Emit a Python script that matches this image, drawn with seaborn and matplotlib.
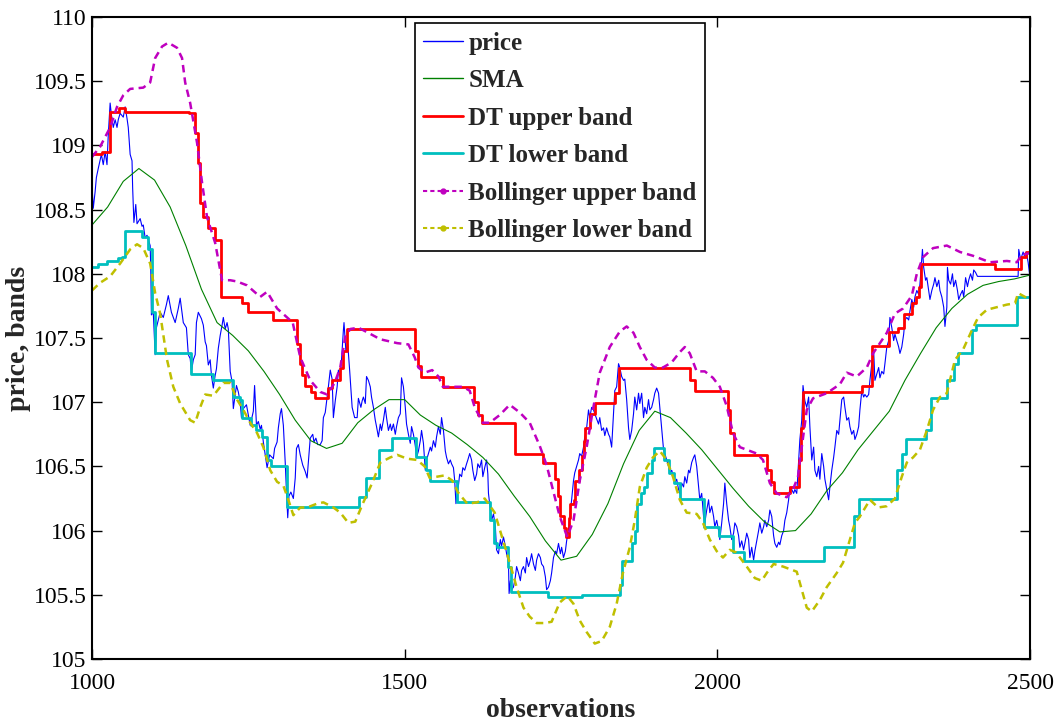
import matplotlib
matplotlib.use("Agg")
import matplotlib.pyplot as plt
from matplotlib.lines import Line2D
import seaborn as sns

# ---- data ----
price_obs = [1000, 1002, 1005, 1007, 1010, 1015, 1018, 1021, 1024, 1026, 1029, 1031, 1034, 1037, 1040, 1042, 1045, 1050,
             1053, 1056, 1058, 1061, 1064, 1065, 1067, 1070, 1072, 1077, 1080, 1082, 1085, 1088, 1093, 1094, 1095, 1098,
             1101, 1103, 1109, 1114, 1119, 1122, 1127, 1133, 1138, 1141, 1146, 1151, 1154, 1157, 1159, 1162, 1165, 1167,
             1170, 1175, 1178, 1181, 1183, 1186, 1189, 1191, 1194, 1197, 1199, 1202, 1205, 1208, 1210, 1213, 1216, 1218,
             1221, 1224, 1226, 1229, 1231, 1234, 1237, 1239, 1242, 1247, 1250, 1253, 1258, 1260, 1263, 1266, 1269, 1271,
             1274, 1277, 1280, 1284, 1290, 1292, 1296, 1298, 1301, 1303, 1306, 1309, 1311, 1313, 1315, 1318, 1322, 1325,
             1327, 1330, 1333, 1337, 1341, 1344, 1347, 1349, 1353, 1355, 1358, 1361, 1365, 1368, 1370, 1373, 1378, 1381,
             1384, 1386, 1389, 1392, 1394, 1397, 1399, 1402, 1403, 1406, 1409, 1412, 1414, 1416, 1420, 1424, 1426, 1430,
             1432, 1434, 1437, 1439, 1442, 1445, 1447, 1450, 1453, 1455, 1458, 1461, 1463, 1466, 1469, 1471, 1474, 1477,
             1479, 1482, 1485, 1487, 1490, 1493, 1495, 1498, 1501, 1503, 1506, 1509, 1511, 1514, 1517, 1519, 1522, 1525,
             1527, 1530, 1533, 1535, 1538, 1541, 1543, 1546, 1549, 1551, 1554, 1557, 1559, 1562, 1565, 1567, 1570, 1573,
             1575, 1578, 1580, 1582, 1585, 1588, 1591, 1593, 1596, 1599, 1601, 1604, 1607, 1609, 1612, 1615, 1617, 1620,
             1623, 1625, 1628, 1631, 1633, 1634, 1637, 1639, 1642, 1645, 1647, 1650, 1653, 1655, 1658, 1661, 1663, 1666,
             1667, 1669, 1671, 1674, 1677, 1679, 1682, 1685, 1687, 1690, 1693, 1695, 1698, 1701, 1703, 1706, 1709, 1711,
             1714, 1717, 1719, 1722, 1725, 1727, 1730, 1733, 1735, 1738, 1741, 1743, 1746, 1749, 1751, 1754, 1757, 1759,
             1762, 1764, 1767, 1770, 1772, 1775, 1778, 1780, 1783, 1786, 1788, 1791, 1794, 1796, 1799, 1802, 1804, 1807,
             1810, 1812, 1815, 1818, 1820, 1823, 1826, 1828, 1831, 1834, 1836, 1839, 1842, 1844, 1847, 1850, 1852, 1855,
             1858, 1860, 1863, 1866, 1868, 1871, 1874, 1876, 1879, 1882, 1884, 1887, 1890, 1892, 1895, 1898, 1900, 1903,
             1906, 1908, 1911, 1914, 1916, 1919, 1922, 1924, 1927, 1930, 1932, 1935, 1938, 1940, 1943, 1946, 1948, 1951,
             1954, 1956, 1959, 1962, 1964, 1967, 1970, 1972, 1975, 1978, 1980, 1983, 1986, 1988, 1991, 1994, 1996, 1999,
             2002, 2004, 2007, 2010, 2012, 2015, 2018, 2020, 2023, 2026, 2028, 2031, 2034, 2036, 2039, 2042, 2044, 2047,
             2050, 2052, 2055, 2058, 2060, 2063, 2066, 2068, 2071, 2074, 2076, 2079, 2082, 2084, 2087, 2090, 2092, 2095,
             2098, 2100, 2103, 2106, 2108, 2111, 2114, 2116, 2119, 2122, 2124, 2127, 2130, 2132, 2135, 2137, 2140, 2143,
             2146, 2148, 2151, 2154, 2156, 2159, 2162, 2164, 2167, 2170, 2172, 2175, 2178, 2180, 2183, 2186, 2188, 2191,
             2194, 2196, 2199, 2202, 2204, 2207, 2210, 2212, 2215, 2218, 2220, 2223, 2226, 2228, 2231, 2234, 2236, 2239,
             2242, 2244, 2247, 2250, 2252, 2255, 2258, 2260, 2263, 2266, 2268, 2271, 2274, 2276, 2279, 2282, 2284, 2287,
             2290, 2292, 2295, 2298, 2300, 2303, 2306, 2308, 2311, 2314, 2316, 2319, 2322, 2324, 2327, 2328, 2330, 2333,
             2335, 2338, 2340, 2343, 2346, 2348, 2351, 2354, 2356, 2359, 2362, 2364, 2367, 2368, 2370, 2373, 2376, 2378,
             2381, 2384, 2386, 2389, 2392, 2394, 2397, 2400, 2402, 2405, 2408, 2410, 2413, 2416, 2481, 2482, 2485, 2489,
             2491, 2494, 2497, 2500]
price_val = [108.69, 108.51, 108.64, 108.75, 108.82, 108.93, 108.85, 108.95, 108.85, 109.08, 109.33, 109.24, 109.14,
             109.20, 109.14, 109.20, 109.25, 109.22, 109.30, 109.21, 109.14, 108.93, 108.88, 108.67, 108.40, 108.54,
             108.39, 108.43, 108.37, 108.38, 108.28, 108.30, 108.22, 108.04, 107.68, 107.70, 107.37, 107.58, 107.70,
             107.66, 107.76, 107.83, 107.70, 107.62, 107.73, 107.81, 107.62, 107.58, 107.37, 107.34, 107.24, 107.33,
             107.37, 107.62, 107.70, 107.65, 107.60, 107.47, 107.44, 107.29, 107.33, 107.21, 107.11, 107.21, 107.26,
             107.42, 107.52, 107.60, 107.66, 107.57, 107.62, 107.57, 107.24, 107.16, 106.95, 107.06, 107.13, 107.08,
             107.00, 106.88, 106.95, 106.98, 106.90, 106.82, 106.93, 107.13, 106.82, 106.85, 106.79, 106.82, 106.69,
             106.59, 106.49, 106.59, 106.56, 106.64, 106.69, 106.80, 106.91, 106.95, 106.82, 106.53, 106.30, 106.10,
             106.27, 106.30, 106.25, 106.41, 106.64, 106.67, 106.59, 106.51, 106.46, 106.41, 106.59, 106.72, 106.75,
             106.69, 106.72, 106.67, 106.67, 106.70, 106.88, 106.92, 107.12, 107.25, 107.18, 106.88, 107.01, 107.12,
             107.25, 107.20, 107.33, 107.56, 107.62, 107.40, 107.45, 107.25, 107.10, 106.96, 106.88, 106.88, 107.03,
             106.96, 107.01, 107.04, 106.99, 107.20, 107.17, 107.12, 107.04, 106.96, 106.86, 106.81, 106.73, 106.83,
             106.78, 106.86, 106.96, 106.88, 106.78, 106.83, 106.78, 106.83, 106.75, 106.81, 106.88, 106.91, 107.19,
             107.12, 106.96, 106.83, 106.75, 106.68, 106.81, 106.75, 106.66, 106.57, 106.62, 106.70, 106.78, 106.68,
             106.47, 106.55, 106.60, 106.65, 106.62, 106.70, 106.65, 106.73, 106.81, 106.75, 106.88, 106.78, 106.62,
             106.57, 106.52, 106.55, 106.52, 106.49, 106.39, 106.21, 106.31, 106.44, 106.42, 106.49, 106.47, 106.52,
             106.55, 106.60, 106.55, 106.47, 106.39, 106.44, 106.52, 106.49, 106.55, 106.42, 106.49, 106.55, 106.44,
             106.29, 106.16, 106.08, 106.13, 106.03, 105.85, 105.82, 105.93, 105.88, 105.95, 105.88, 105.82, 105.75,
             105.51, 105.61, 105.54, 105.56, 105.64, 105.72, 105.67, 105.61, 105.69, 105.72, 105.67, 105.79, 105.72,
             105.77, 105.82, 105.74, 105.69, 105.77, 105.82, 105.79, 105.74, 105.72, 105.64, 105.54, 105.56, 105.61,
             105.67, 105.79, 105.84, 105.82, 105.90, 105.82, 105.87, 105.79, 105.84, 105.92, 106.00, 106.11, 106.24,
             106.39, 106.45, 106.50, 106.55, 106.60, 106.58, 106.65, 106.73, 106.80, 106.94, 106.88, 106.96, 106.94,
             106.91, 106.87, 106.83, 106.88, 106.78, 106.80, 106.74, 106.80, 106.75, 106.73, 106.65, 106.91, 107.09,
             107.12, 107.30, 107.27, 107.20, 107.17, 107.18, 107.02, 106.80, 106.71, 106.78, 106.91, 107.04, 106.94,
             107.07, 106.99, 107.07, 106.88, 106.96, 106.91, 107.02, 106.94, 106.96, 107.02, 107.07, 107.11, 107.07,
             106.96, 106.80, 106.63, 106.60, 106.55, 106.50, 106.45, 106.47, 106.42, 106.37, 106.40, 106.32, 106.29,
             106.37, 106.34, 106.42, 106.37, 106.47, 106.45, 106.53, 106.57, 106.59, 106.50, 106.34, 106.24, 106.29,
             106.11, 106.06, 106.16, 106.24, 106.14, 106.19, 106.11, 106.03, 106.08, 106.00, 105.93, 106.06, 106.21,
             106.37, 106.21, 106.08, 106.03, 105.93, 105.98, 106.06, 106.03, 105.96, 105.87, 105.92, 105.85, 105.90,
             105.98, 105.93, 105.79, 105.87, 105.77, 105.84, 105.92, 106.00, 106.06, 105.98, 106.03, 106.08, 106.03,
             106.08, 106.16, 106.11, 105.96, 105.90, 105.87, 105.91, 105.89, 105.96, 106.00, 106.08, 106.14, 106.24,
             106.34, 106.32, 106.29, 106.32, 106.29, 106.55, 106.71, 106.86, 107.13, 107.01, 106.96, 107.04, 106.81,
             106.55, 106.65, 106.47, 106.42, 106.50, 106.40, 106.60, 106.50, 106.40, 106.32, 106.24, 106.34, 106.47,
             106.57, 106.65, 106.78, 106.75, 106.86, 107.02, 107.04, 106.96, 106.86, 106.88, 106.81, 106.75, 106.78,
             106.71, 106.75, 106.81, 106.94, 107.09, 107.04, 107.06, 107.04, 107.06, 107.17, 107.30, 107.40, 107.17,
             107.22, 107.27, 107.19, 107.24, 107.22, 107.30, 107.43, 107.48, 107.66, 107.58, 107.48, 107.53, 107.48,
             107.43, 107.38, 107.43, 107.53, 107.64, 107.66, 107.64, 107.71, 107.80, 107.74, 107.82, 107.87, 107.84,
             107.92, 108.13, 108.19, 108.05, 107.95, 107.97, 107.87, 107.80, 107.87, 107.92, 107.97, 107.90, 107.95,
             107.87, 107.82, 107.74, 107.59, 107.74, 108.05, 107.95, 107.92, 108.00, 107.90, 107.95, 107.87, 107.80,
             107.84, 107.87, 107.82, 107.97, 107.90, 107.95, 108.00, 107.95, 108.03, 108.01, 107.98, 107.98, 108.19,
             108.11, 108.17, 108.14, 108.17, 108.09, 107.97]

sma_obs = [1000, 1025, 1050, 1075, 1100, 1125, 1150, 1175, 1200, 1225, 1250, 1275, 1300, 1325, 1350, 1375, 1400,
           1425, 1450, 1475, 1500, 1525, 1550, 1575, 1600, 1625, 1650, 1675, 1700, 1725, 1750, 1775, 1800, 1825,
           1850, 1875, 1900, 1925, 1950, 1975, 2000, 2025, 2050, 2075, 2100, 2125, 2150, 2175, 2200, 2225, 2250,
           2275, 2300, 2325, 2350, 2375, 2400, 2425, 2450, 2475, 2500]
sma_val = [108.38, 108.52, 108.72, 108.82, 108.73, 108.52, 108.22, 107.88, 107.62, 107.52, 107.40, 107.24, 107.06,
           106.86, 106.70, 106.64, 106.68, 106.84, 106.94, 107.02, 107.02, 106.90, 106.82, 106.76, 106.67, 106.57,
           106.44, 106.27, 106.11, 105.92, 105.77, 105.80, 105.97, 106.21, 106.52, 106.78, 106.93, 106.88, 106.76,
           106.63, 106.48, 106.33, 106.19, 106.07, 105.99, 106.00, 106.13, 106.31, 106.45, 106.63, 106.78, 106.93,
           107.17, 107.38, 107.58, 107.73, 107.84, 107.91, 107.94, 107.96, 107.99]

# DT bands: level starts at each obs (step function)
dtu_obs = [1000, 1016, 1029, 1043, 1053, 1155, 1165, 1169, 1173, 1178, 1186, 1197, 1206, 1240, 1250, 1290, 1328,
           1332, 1336, 1341, 1350, 1356, 1378, 1384, 1397, 1402, 1407, 1517, 1522, 1526, 1561, 1611, 1617, 1623,
           1676, 1722, 1741, 1745, 1749, 1754, 1758, 1762, 1765, 1770, 1772, 1778, 1783, 1786, 1788, 1796, 1804,
           1836, 1842, 1956, 1964, 2017, 2021, 2026, 2080, 2086, 2090, 2116, 2130, 2134, 2137, 2231, 2248, 2275,
           2289, 2299, 2312, 2318, 2322, 2326, 2444, 2485, 2493, 2500]
dtu_val = [108.93, 108.95, 109.26, 109.29, 109.26, 109.25, 109.10, 108.86, 108.55, 108.44, 108.36, 108.26, 107.82,
           107.77, 107.70, 107.64, 107.45, 107.30, 107.21, 107.13, 107.08, 107.03, 107.11, 107.17, 107.27, 107.40,
           107.57, 107.40, 107.28, 107.20, 107.12, 107.00, 106.90, 106.84, 106.60, 106.53, 106.40, 106.27, 106.11,
           106.02, 105.95, 106.10, 106.21, 106.24, 106.39, 106.47, 106.58, 106.70, 106.80, 106.91, 106.99, 107.07,
           107.27, 107.17, 107.09, 106.94, 106.76, 106.59, 106.47, 106.38, 106.29, 106.34, 106.55, 106.80, 107.08,
           107.13, 107.44, 107.55, 107.58, 107.69, 107.77, 107.82, 107.90, 108.08, 108.04, 108.13, 108.17, 108.17]

dtl_obs = [1000, 1010, 1024, 1042, 1048, 1052, 1080, 1090, 1096, 1100, 1158, 1193, 1226, 1236, 1240, 1254, 1262,
           1272, 1280, 1287, 1312, 1427, 1438, 1459, 1479, 1518, 1534, 1540, 1583, 1637, 1643, 1647, 1666, 1670,
           1729, 1784, 1845, 1848, 1864, 1868, 1872, 1878, 1882, 1888, 1895, 1899, 1915, 1922, 1930, 1940, 1979,
           2003, 2025, 2043, 2171, 2218, 2226, 2288, 2296, 2302, 2333, 2341, 2368, 2378, 2385, 2408, 2414, 2480,
           2500]
dtl_val = [108.05, 108.08, 108.10, 108.12, 108.13, 108.33, 108.29, 108.19, 107.70, 107.38, 107.22, 107.17, 107.04,
           107.02, 106.88, 106.82, 106.78, 106.73, 106.55, 106.50, 106.18, 106.26, 106.41, 106.63, 106.72, 106.57,
           106.47, 106.39, 106.22, 106.08, 105.90, 105.87, 105.72, 105.52, 105.48, 105.50, 105.58, 105.76, 105.90,
           106.00, 106.21, 106.29, 106.34, 106.45, 106.55, 106.64, 106.55, 106.45, 106.37, 106.25, 106.03, 105.96,
           105.83, 105.76, 105.87, 106.11, 106.25, 106.47, 106.60, 106.71, 106.78, 107.03, 107.17, 107.30, 107.38,
           107.56, 107.60, 107.82, 107.82]

bu_obs = [1000, 1013, 1029, 1040, 1050, 1061, 1082, 1093, 1101, 1112, 1122, 1136, 1144, 1149, 1157, 1168, 1176, 1184,
          1197, 1208, 1221, 1232, 1248, 1269, 1280, 1296, 1312, 1321, 1333, 1349, 1365, 1376, 1388, 1397, 1405, 1413,
          1426, 1442, 1461, 1488, 1506, 1516, 1522, 1532, 1544, 1554, 1561, 1593, 1604, 1612, 1625, 1636, 1652, 1668,
          1684, 1700, 1716, 1727, 1737, 1748, 1760, 1770, 1780, 1791, 1801, 1812, 1828, 1844, 1855, 1866, 1876, 1887,
          1900, 1913, 1927, 1940, 1948, 1956, 1967, 1980, 1993, 2004, 2015, 2025, 2036, 2063, 2073, 2084, 2095, 2111,
          2121, 2129, 2135, 2143, 2153, 2175, 2196, 2207, 2223, 2239, 2249, 2260, 2271, 2284, 2297, 2311, 2319, 2329,
          2345, 2367, 2388, 2409, 2436, 2463, 2479, 2487, 2500]
bu_val = [108.91, 108.99, 109.14, 109.30, 109.39, 109.44, 109.45, 109.49, 109.68, 109.77, 109.80, 109.76, 109.68,
          109.49, 109.33, 109.02, 108.71, 108.44, 108.24, 107.95, 107.95, 107.94, 107.91, 107.82, 107.86, 107.73,
          107.66, 107.62, 107.35, 107.17, 107.08, 107.06, 107.15, 107.27, 107.51, 107.57, 107.58, 107.54, 107.49,
          107.46, 107.45, 107.35, 107.27, 107.23, 107.25, 107.20, 107.12, 107.12, 107.09, 106.96, 106.84, 106.84,
          106.90, 106.98, 106.92, 106.84, 106.66, 106.51, 106.32, 106.11, 105.95, 106.08, 106.39, 106.65, 106.94,
          107.23, 107.43, 107.55, 107.59, 107.54, 107.43, 107.33, 107.27, 107.27, 107.31, 107.39, 107.43, 107.38,
          107.24, 107.24, 107.19, 107.12, 106.97, 106.76, 106.65, 106.60, 106.55, 106.37, 106.29, 106.26, 106.32,
          106.42, 106.65, 106.94, 107.03, 107.07, 107.14, 107.23, 107.20, 107.27, 107.38, 107.46, 107.54, 107.69,
          107.73, 107.83, 108.00, 108.13, 108.20, 108.22, 108.17, 108.14, 108.09, 108.10, 108.09, 108.15, 108.16]

bl_obs = [1000, 1013, 1029, 1045, 1061, 1072, 1082, 1093, 1101, 1109, 1120, 1130, 1141, 1157, 1165, 1173, 1181, 1194,
          1210, 1221, 1232, 1242, 1253, 1264, 1274, 1285, 1296, 1306, 1314, 1322, 1333, 1344, 1360, 1370, 1386, 1397,
          1410, 1421, 1433, 1448, 1461, 1477, 1488, 1504, 1520, 1532, 1540, 1552, 1564, 1576, 1585, 1600, 1616, 1628,
          1644, 1657, 1668, 1679, 1690, 1700, 1711, 1724, 1735, 1748, 1760, 1770, 1780, 1791, 1804, 1815, 1828, 1839,
          1849, 1860, 1868, 1876, 1887, 1897, 1908, 1919, 1929, 1940, 1951, 1967, 1977, 1988, 1999, 2009, 2020, 2030,
          2047, 2060, 2071, 2079, 2090, 2105, 2127, 2135, 2143, 2151, 2164, 2175, 2191, 2201, 2212, 2220, 2228, 2244,
          2257, 2271, 2284, 2295, 2303, 2313, 2324, 2335, 2345, 2356, 2367, 2372, 2380, 2393, 2407, 2417, 2431, 2447,
          2463, 2476, 2481, 2492, 2500]
bl_val = [107.87, 107.93, 107.98, 108.08, 108.19, 108.23, 108.20, 108.08, 107.85, 107.69, 107.33, 107.12, 106.99,
          106.86, 106.84, 106.96, 107.06, 107.05, 107.15, 107.15, 107.02, 106.94, 106.84, 106.76, 106.65, 106.47,
          106.38, 106.35, 106.24, 106.12, 106.18, 106.18, 106.21, 106.22, 106.18, 106.14, 106.06, 106.07, 106.21,
          106.37, 106.53, 106.57, 106.59, 106.56, 106.55, 106.50, 106.41, 106.42, 106.43, 106.39, 106.30, 106.21,
          106.22, 106.25, 106.14, 105.93, 105.75, 105.56, 105.40, 105.33, 105.28, 105.28, 105.29, 105.44, 105.49,
          105.43, 105.30, 105.21, 105.12, 105.14, 105.25, 105.43, 105.67, 105.87, 106.08, 106.34, 106.49, 106.57,
          106.62, 106.55, 106.42, 106.24, 106.14, 106.13, 106.06, 105.93, 105.84, 105.79, 105.85, 105.83, 105.72,
          105.63, 105.61, 105.67, 105.74, 105.72, 105.68, 105.54, 105.40, 105.37, 105.46, 105.56, 105.67, 105.75,
          105.93, 106.06, 106.11, 106.24, 106.18, 106.19, 106.25, 106.42, 106.53, 106.57, 106.63, 106.78, 106.94,
          107.04, 107.07, 107.17, 107.33, 107.41, 107.56, 107.66, 107.72, 107.74, 107.76, 107.77, 107.85, 107.82,
          107.80]

labels = ['price', 'SMA', 'DT upper band', 'DT lower band', 'Bollinger upper band', 'Bollinger lower band']
colors = ['#0000ff', '#008000', '#ff0000', '#00bfbf', '#bf00bf', '#bfbf00']

sns.set_style("ticks")
plt.rcParams['font.family'] = ['Liberation Serif', 'DejaVu Serif']

fig = plt.figure(figsize=(10.58, 7.23), dpi=100)
ax = fig.add_axes([92 / 1058, 1 - 659 / 723, 938 / 1058, 642 / 723])

common = dict(ax=ax, estimator=None, sort=False, legend=False)
sns.lineplot(x=price_obs, y=price_val, color=colors[0], linewidth=0.8, **common)
sns.lineplot(x=sma_obs, y=sma_val, color=colors[1], linewidth=0.8, **common)
sns.lineplot(x=dtu_obs, y=dtu_val, color=colors[2], linewidth=2.0, drawstyle='steps-post', **common)
sns.lineplot(x=dtl_obs, y=dtl_val, color=colors[3], linewidth=2.0, drawstyle='steps-post', **common)
sns.lineplot(x=bu_obs, y=bu_val, color=colors[4], linewidth=1.8, dashes=False, linestyle=(0, (3, 2)), **common)
sns.lineplot(x=bl_obs, y=bl_val, color=colors[5], linewidth=1.8, dashes=False, linestyle=(0, (3, 2)), **common)

ax.set_xlim(1000, 2500)
ax.set_ylim(105, 110)
ax.set_xticks([1000, 1500, 2000, 2500])
ax.set_yticks([105, 105.5, 106, 106.5, 107, 107.5, 108, 108.5, 109, 109.5, 110])
ax.set_yticklabels(['105', '105.5', '106', '106.5', '107', '107.5', '108', '108.5', '109', '109.5', '110'])
ax.tick_params(direction='in', length=7, width=1, top=True, right=True, labelsize=17, colors='black')
ax.tick_params(axis='x', pad=10)
ax.tick_params(axis='y', pad=4)
for sp in ax.spines.values():
    sp.set_visible(True)
    sp.set_linewidth(1.5)
    sp.set_color('black')

ax.set_xlabel('observations', fontsize=20, fontweight='bold', labelpad=3)
ax.set_ylabel('price, bands', fontsize=20, fontweight='bold', labelpad=2)

handles = [
    Line2D([], [], color=colors[0], lw=1.0),
    Line2D([], [], color=colors[1], lw=1.0),
    Line2D([], [], color=colors[2], lw=2.0),
    Line2D([], [], color=colors[3], lw=2.0),
    Line2D([], [], color=colors[4], lw=1.5, ls=(0, (2, 1.5)), marker='.', markersize=7),
    Line2D([], [], color=colors[5], lw=1.5, ls=(0, (2, 1.5)), marker='.', markersize=7),
]
leg = ax.legend(handles, labels, loc='upper center', bbox_to_anchor=(0.499, 0.991), borderaxespad=0,
                prop={'size': 18, 'weight': 'bold'}, handlelength=1.6, handletextpad=0.2,
                labelspacing=0.58, borderpad=0.35, fancybox=False, framealpha=1)
leg.get_frame().set_edgecolor('black')
leg.get_frame().set_linewidth(1.2)

fig.savefig('out.png', dpi=100)
